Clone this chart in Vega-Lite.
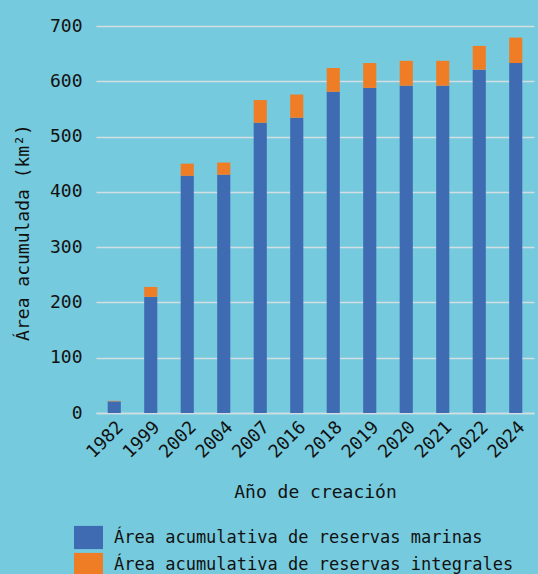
{
  "$schema": "https://vega.github.io/schema/vega-lite/v6.json",
  "autosize": "none",
  "width": 438,
  "height": 387,
  "padding": {"left": 96, "top": 26, "right": 4, "bottom": 161},
  "background": "#76CADD",
  "config": {
    "view": {"stroke": null},
    "font": "DejaVu Sans Mono"
  },
  "data": {
    "values": [
      {"anio": "1982", "serie": "Área acumulativa de reservas marinas", "orden": 0, "area": 21},
      {"anio": "1982", "serie": "Área acumulativa de reservas integrales", "orden": 1, "area": 1},
      {"anio": "1999", "serie": "Área acumulativa de reservas marinas", "orden": 0, "area": 210},
      {"anio": "1999", "serie": "Área acumulativa de reservas integrales", "orden": 1, "area": 18},
      {"anio": "2002", "serie": "Área acumulativa de reservas marinas", "orden": 0, "area": 429},
      {"anio": "2002", "serie": "Área acumulativa de reservas integrales", "orden": 1, "area": 22},
      {"anio": "2004", "serie": "Área acumulativa de reservas marinas", "orden": 0, "area": 431},
      {"anio": "2004", "serie": "Área acumulativa de reservas integrales", "orden": 1, "area": 22},
      {"anio": "2007", "serie": "Área acumulativa de reservas marinas", "orden": 0, "area": 525},
      {"anio": "2007", "serie": "Área acumulativa de reservas integrales", "orden": 1, "area": 41},
      {"anio": "2016", "serie": "Área acumulativa de reservas marinas", "orden": 0, "area": 534},
      {"anio": "2016", "serie": "Área acumulativa de reservas integrales", "orden": 1, "area": 42},
      {"anio": "2018", "serie": "Área acumulativa de reservas marinas", "orden": 0, "area": 581},
      {"anio": "2018", "serie": "Área acumulativa de reservas integrales", "orden": 1, "area": 43},
      {"anio": "2019", "serie": "Área acumulativa de reservas marinas", "orden": 0, "area": 588},
      {"anio": "2019", "serie": "Área acumulativa de reservas integrales", "orden": 1, "area": 45},
      {"anio": "2020", "serie": "Área acumulativa de reservas marinas", "orden": 0, "area": 592},
      {"anio": "2020", "serie": "Área acumulativa de reservas integrales", "orden": 1, "area": 45},
      {"anio": "2021", "serie": "Área acumulativa de reservas marinas", "orden": 0, "area": 592},
      {"anio": "2021", "serie": "Área acumulativa de reservas integrales", "orden": 1, "area": 45},
      {"anio": "2022", "serie": "Área acumulativa de reservas marinas", "orden": 0, "area": 621},
      {"anio": "2022", "serie": "Área acumulativa de reservas integrales", "orden": 1, "area": 43},
      {"anio": "2024", "serie": "Área acumulativa de reservas marinas", "orden": 0, "area": 633},
      {"anio": "2024", "serie": "Área acumulativa de reservas integrales", "orden": 1, "area": 46}
    ]
  },
  "mark": {"type": "bar"},
  "encoding": {
    "x": {
      "field": "anio",
      "type": "ordinal",
      "scale": {"paddingInner": 0.64, "paddingOuter": 0.32},
      "axis": {
        "title": "Año de creación",
        "titleFont": "DejaVu Sans Mono",
        "titleFontSize": 18,
        "titleFontWeight": "normal",
        "titleColor": "#111111",
        "titlePadding": 22,
        "labelAngle": -45,
        "labelFont": "DejaVu Sans Mono",
        "labelFontSize": 18,
        "labelColor": "#111111",
        "labelPadding": 5,
        "ticks": false,
        "domain": true,
        "domainColor": "#D3DEE2",
        "domainWidth": 1.5
      }
    },
    "y": {
      "field": "area",
      "type": "quantitative",
      "stack": "zero",
      "scale": {"domain": [0, 700], "nice": false},
      "axis": {
        "title": "Área acumulada (km²)",
        "titleFont": "DejaVu Sans Mono",
        "titleFontSize": 18,
        "titleFontWeight": "normal",
        "titleColor": "#111111",
        "titlePadding": 17,
        "titleY": 206,
        "values": [0, 100, 200, 300, 400, 500, 600, 700],
        "labelFont": "DejaVu Sans Mono",
        "labelFontSize": 18,
        "labelColor": "#111111",
        "labelPadding": 14,
        "ticks": false,
        "domain": false,
        "grid": true,
        "gridColor": "#D3DEE2",
        "gridWidth": 1.5
      }
    },
    "order": {"field": "orden"},
    "color": {
      "field": "serie",
      "type": "nominal",
      "scale": {
        "domain": ["Área acumulativa de reservas marinas", "Área acumulativa de reservas integrales"],
        "range": ["#3F6BB3", "#EE7D26"]
      },
      "legend": {
        "title": null,
        "orient": "none",
        "legendX": -22,
        "legendY": 497,
        "symbolType": "M-1,-0.8H1V0.8H-1Z",
        "symbolSize": 841,
        "symbolStrokeWidth": 0,
        "symbolOpacity": 1,
        "labelFont": "DejaVu Sans Mono",
        "labelFontSize": 17,
        "labelColor": "#111111",
        "labelOffset": 11,
        "labelLimit": 500,
        "rowPadding": 0,
        "encode": {
          "symbols": {
            "enter": {
              "fill": [
                {"test": "datum.value === 'Área acumulativa de reservas integrales'", "value": "#F39200"},
                {"value": "#3F6BB3"}
              ]
            },
            "update": {
              "fill": [
                {"test": "datum.value === 'Área acumulativa de reservas integrales'", "value": "#F39200"},
                {"value": "#3F6BB3"}
              ]
            }
          }
        }
      }
    }
  }
}
